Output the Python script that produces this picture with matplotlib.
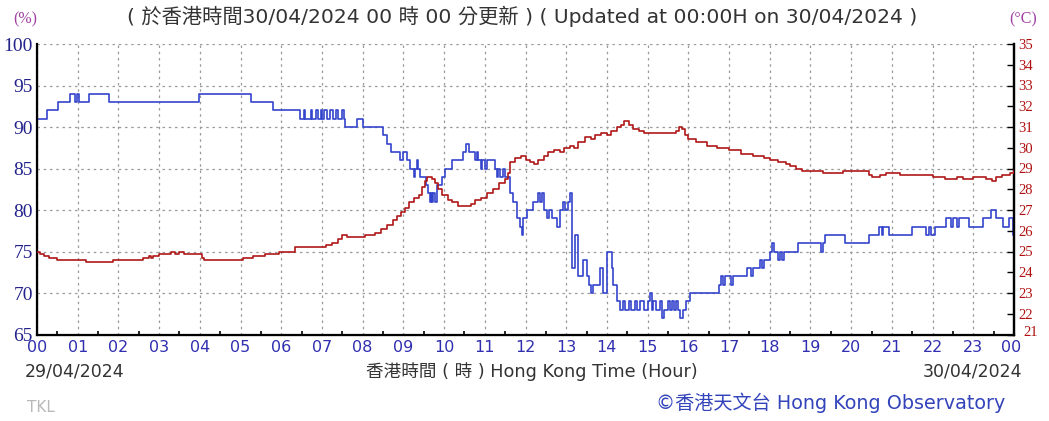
import matplotlib
matplotlib.use("Agg")
import matplotlib.pyplot as plt
import matplotlib.transforms as mtransforms
from matplotlib.ticker import MultipleLocator

# Relative humidity (%) - step changes (hour, value)
rh_hour = [0.00, 0.24, 0.52, 0.80, 0.93, 0.98, 1.03, 1.27, 1.78, 3.97, 5.25, 5.80,
           6.45, 6.55, 6.58, 6.72, 6.75, 6.85, 6.90, 6.97, 7.00, 7.05, 7.12, 7.20,
           7.28, 7.35, 7.40, 7.50, 7.53, 7.57, 7.85, 8.02, 8.51, 8.60, 8.70, 8.80,
           8.92, 9.00, 9.08, 9.16, 9.25, 9.29, 9.33, 9.37, 9.42, 9.55, 9.61, 9.65,
           9.68, 9.70, 9.74, 9.78, 9.82, 9.94, 10.02, 10.19, 10.47, 10.53, 10.60,
           10.75, 10.80, 10.84, 10.90, 10.93, 11.00, 11.05, 11.25, 11.30, 11.33,
           11.38, 11.45, 11.50, 11.62, 11.70, 11.79, 11.86, 11.91, 11.95, 12.03,
           12.19, 12.30, 12.36, 12.40, 12.45, 12.52, 12.58, 12.65, 12.77, 12.85,
           12.92, 12.97, 13.05, 13.10, 13.14, 13.22, 13.30, 13.42, 13.50, 13.55,
           13.60, 13.67, 13.83, 13.91, 14.00, 14.12, 14.16, 14.24, 14.32, 14.40,
           14.45, 14.55, 14.60, 14.70, 14.75, 14.82, 14.90, 15.00, 15.06, 15.10,
           15.14, 15.20, 15.30, 15.35, 15.40, 15.50, 15.55, 15.60, 15.65, 15.70,
           15.75, 15.80, 15.88, 15.95, 16.05, 16.20, 16.75, 16.80, 16.85, 16.90,
           17.05, 17.10, 17.15, 17.45, 17.55, 17.60, 17.75, 17.80, 17.85, 18.00,
           18.05, 18.10, 18.20, 18.25, 18.30, 18.35, 18.45, 18.70, 19.25, 19.30,
           19.35, 19.85, 20.43, 20.68, 20.75, 20.78, 20.93, 21.50, 21.83, 21.90,
           21.95, 22.07, 22.32, 22.45, 22.50, 22.60, 22.65, 22.90, 23.23, 23.43,
           23.55, 23.72, 23.88, 23.97, 24.00]
rh_val = [91, 92, 93, 94, 93, 94, 93, 94, 93, 94, 93, 92,
          91, 92, 91, 92, 91, 92, 91, 92, 91, 92, 91, 92,
          91, 92, 91, 92, 91, 90, 91, 90, 89, 88, 87, 87,
          86, 87, 86, 85, 84, 85, 86, 85, 84, 83, 82, 81,
          82, 81, 82, 81, 83, 84, 85, 86, 87, 88, 87,
          86, 87, 86, 85, 86, 85, 86, 85, 84, 85,
          84, 85, 84, 82, 81, 79, 78, 77, 79, 80,
          81, 82, 81, 82, 80, 79, 80, 79, 78, 80,
          81, 80, 81, 82, 73, 77, 72, 74, 72, 71,
          70, 71, 73, 70, 75, 73, 71, 69, 68, 69,
          68, 69, 68, 69, 68, 69, 68, 69, 70, 68,
          69, 68, 69, 67, 68, 69, 68, 69, 68, 69,
          68, 67, 68, 69, 70, 70, 71, 72, 71, 72,
          71, 72, 72, 73, 72, 73, 74, 73, 74, 75,
          76, 75, 74, 75, 74, 75, 75, 76, 75, 76,
          77, 76, 77, 78, 77, 78, 77, 78, 77, 78,
          77, 78, 79, 78, 79, 78, 79, 78, 79, 80,
          79, 78, 79, 77, 77]

# Air temperature (deg C) - step changes (hour, value)
t_hour = [0.00, 0.08, 0.16, 0.30, 0.50, 1.20, 1.60, 1.87, 2.60, 2.75, 2.80, 2.85,
          3.00, 3.30, 3.40, 3.50, 3.60, 4.05, 4.10, 5.07, 5.30, 5.60, 5.95, 6.35,
          7.10, 7.25, 7.40, 7.50, 7.62, 8.05, 8.30, 8.45, 8.60, 8.75, 8.85, 8.95,
          9.05, 9.15, 9.25, 9.38, 9.45, 9.52, 9.58, 9.70, 9.78, 9.85, 9.95, 10.10,
          10.20, 10.35, 10.65, 10.75, 10.90, 11.05, 11.20, 11.35, 11.50, 11.58,
          11.63, 11.75, 11.88, 12.00, 12.10, 12.20, 12.30, 12.45, 12.55, 12.70,
          12.85, 12.95, 13.10, 13.20, 13.30, 13.45, 13.60, 13.70, 13.85, 14.00,
          14.10, 14.25, 14.35, 14.42, 14.55, 14.65, 14.80, 14.90, 15.70, 15.78,
          15.84, 15.92, 16.00, 16.20, 16.45, 16.70, 17.00, 17.30, 17.60, 17.85,
          18.00, 18.20, 18.40, 18.50, 18.65, 18.80, 19.30, 19.80, 20.20, 20.45,
          20.50, 20.70, 20.85, 21.20, 21.70, 22.00, 22.30, 22.60, 22.75, 23.00,
          23.30, 23.45, 23.55, 23.70, 23.90, 24.00]
t_val = [25.0, 24.9, 24.8, 24.7, 24.6, 24.5, 24.5, 24.6, 24.7, 24.8, 24.7, 24.8,
         24.9, 25.0, 24.9, 25.0, 24.9, 24.7, 24.6, 24.7, 24.8, 24.9, 25.0, 25.2,
         25.3, 25.4, 25.6, 25.8, 25.7, 25.8, 25.9, 26.1, 26.3, 26.5, 26.7, 26.9,
         27.1, 27.4, 27.6, 27.7, 28.1, 28.4, 28.6, 28.5, 28.3, 28.0, 27.7, 27.5,
         27.4, 27.2, 27.3, 27.5, 27.6, 27.8, 28.0, 28.3, 28.5, 28.8,
         29.3, 29.5, 29.6, 29.4, 29.3, 29.2, 29.4, 29.6, 29.8, 29.9,
         29.8, 30.0, 30.1, 30.0, 30.3, 30.5, 30.4, 30.6, 30.7, 30.6,
         30.8, 31.0, 31.1, 31.3, 31.1, 30.9, 30.8, 30.7, 30.8, 31.0,
         30.9, 30.6, 30.4, 30.3, 30.1, 30.0, 29.9, 29.7, 29.6, 29.5,
         29.4, 29.3, 29.2, 29.1, 29.0, 28.9, 28.8, 28.9, 28.9, 28.7,
         28.6, 28.7, 28.8, 28.7, 28.7, 28.6, 28.5, 28.6, 28.5, 28.6,
         28.5, 28.4, 28.6, 28.7, 28.8, 28.9]

hour_labels = ["%02d" % (h % 24) for h in range(25)]
rh_ticks = [65, 70, 75, 80, 85, 90, 95, 100]
t_ticks = list(range(21, 36))

# latin text in DejaVu (wide, Tahoma-like), CJK falls back to Noto
mixed = ["DejaVu Sans", "Noto Sans CJK TC"]
blue = "#3344cc"
red = "#b01818"

fig = plt.figure(figsize=(10.49, 4.21), dpi=100)
ax = fig.add_axes([37 / 1049, 1 - 334.5 / 421, 977 / 1049, 290.5 / 421])

ax.plot(rh_hour, rh_val, drawstyle="steps-post", color=blue, lw=1.2, zorder=3)
ax.set_xlim(0, 24)
ax.set_ylim(65, 100)
ax.set_yticks(rh_ticks)
ax.set_xticks(range(25))
ax.set_xticklabels(hour_labels)
ax.xaxis.set_minor_locator(MultipleLocator(0.5))
ax.grid(True, which="major", color="#9a9a9a", linestyle=(0, (2, 3)), lw=0.9)
ax.set_axisbelow(True)

ax.spines["top"].set_visible(False)
for s in ["left", "bottom", "right"]:
    ax.spines[s].set_linewidth(1.6)
    ax.spines[s].set_color("black")

ax.tick_params(axis="x", which="major", direction="in", length=0, pad=4,
               labelsize=11.5, labelcolor="#2f2fb0")
ax.tick_params(axis="x", which="minor", direction="in", length=3, width=1.2)
ax.tick_params(axis="y", direction="in", length=0, pad=3, labelcolor="#22228a")
for lab in ax.get_yticklabels():
    lab.set_fontfamily("Liberation Serif")
    lab.set_fontsize(14)
xlabels = ax.get_xticklabels()
xlabels[-1].set_transform(xlabels[-1].get_transform() +
                          mtransforms.ScaledTranslation(-3 / 100, 0, fig.dpi_scale_trans))

ax2 = ax.twinx()
ax2.plot(t_hour, t_val, drawstyle="steps-post", color=red, lw=1.2, zorder=3)
ax2.set_ylim(21, 35)
ax2.set_yticks(t_ticks)
ax2.spines["top"].set_visible(False)
ax2.spines["right"].set_linewidth(1.6)
ax2.tick_params(axis="y", direction="in", length=5, width=1.0, pad=3,
                labelcolor="#b01010")
rlabels = ax2.get_yticklabels()
for lab in rlabels:
    lab.set_fontfamily("Liberation Serif")
    lab.set_fontsize(10.5)
# nudge the bottom "21" so it clears the final "00" and the "22"
rlabels[0].set_transform(rlabels[0].get_transform() +
                         mtransforms.ScaledTranslation(5 / 100, 3 / 100, fig.dpi_scale_trans))

fig.text(522 / 1049, 1 - 16 / 421,
         "( 於香港時間30/04/2024 00 時 00 分更新 ) ( Updated at 00:00H on 30/04/2024 )",
         ha="center", va="center", fontsize=14.6, color="#333333", family=mixed)
fig.text(25 / 1049, 1 - 19 / 421, "(%)", ha="center", va="center",
         fontsize=11.5, color="#a040a0", family="Liberation Serif")
fig.text(1023 / 1049, 1 - 19 / 421, "(°C)", ha="center", va="center",
         fontsize=11.5, color="#a040a0", family="Liberation Serif")
fig.text(25 / 1049, 1 - 372 / 421, "29/04/2024", ha="left", va="center",
         fontsize=12.5, color="#333333", family=mixed)
fig.text(532 / 1049, 1 - 372 / 421, "香港時間 ( 時 ) Hong Kong Time (Hour)",
         ha="center", va="center", fontsize=12.7, color="#333333", family=mixed)
fig.text(1022 / 1049, 1 - 372 / 421, "30/04/2024", ha="right", va="center",
         fontsize=12.5, color="#333333", family=mixed)
fig.text(27 / 1049, 1 - 408 / 421, "TKL", ha="left", va="center",
         fontsize=11, color="#b8b8b8", family=mixed)
fig.text(1005 / 1049, 1 - 403 / 421, "©香港天文台 Hong Kong Observatory",
         ha="right", va="center", fontsize=13.8, color="#3344bb", family=mixed)

fig.savefig("out.png", dpi=100)
